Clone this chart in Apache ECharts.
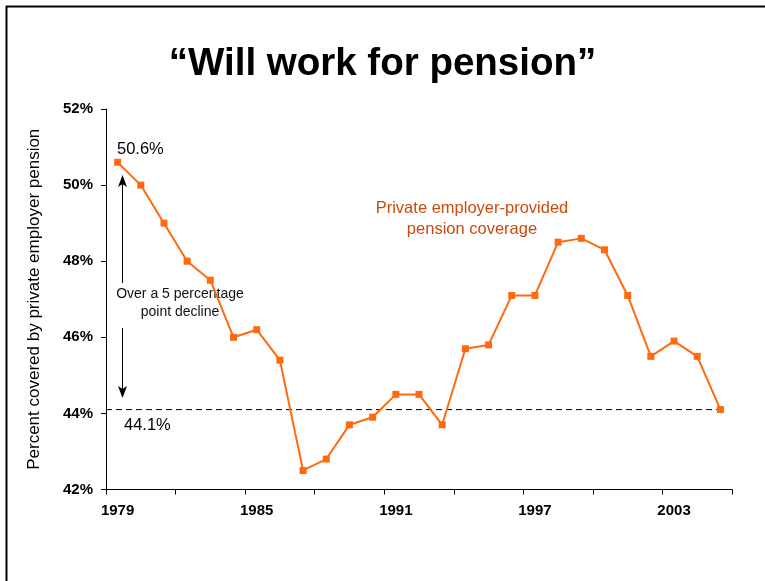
<!DOCTYPE html>
<html>
<head>
<meta charset="utf-8">
<script src="https://cdn.jsdelivr.net/npm/echarts@6/dist/echarts.min.js"></script>
<style>
  html, body { margin: 0; padding: 0; background: #ffffff; }
  #chart { width: 765px; height: 581px; }
</style>
</head>
<body>
<div id="chart"></div>
<script>
// Share of private-sector workers covered by an employer pension, 1979-2005
const years = ['1979','1980','1981','1982','1983','1984','1985','1986','1987','1988',
  '1989','1990','1991','1992','1993','1994','1995','1996','1997','1998',
  '1999','2000','2001','2002','2003','2004','2005'];
const coverage = [50.6, 50.0, 49.0, 48.0, 47.5, 46.0, 46.2, 45.4, 42.5, 42.8,
  43.7, 43.9, 44.5, 44.5, 43.7, 45.7, 45.8, 47.1, 47.1, 48.5,
  48.6, 48.3, 47.1, 45.5, 45.9, 45.5, 44.1];
const yTickValues = [42, 44, 46, 48, 50, 52];

const startValue = coverage[0];
const endValue = coverage[coverage.length - 1];

const FONT = '"Liberation Sans", Arial, Helvetica, sans-serif';
const ORANGE = '#ff6a10';

const chart = echarts.init(document.getElementById('chart'), null, { renderer: 'canvas' });

const option = {
  backgroundColor: '#ffffff',
  animation: false,
  title: {
    text: '\u201cWill work for pension\u201d',
    left: 'center',
    top: 40,
    textStyle: { fontFamily: FONT, fontSize: 38.5, fontWeight: 'bold', color: '#000000' }
  },
  grid: { left: 106, right: 33, top: 109, bottom: 91.5, containLabel: false },
  xAxis: [
    {
      type: 'category',
      data: years,
      boundaryGap: true,
      axisLine: { lineStyle: { color: '#000000', width: 1 } },
      axisTick: { show: true, interval: 2, length: 5, lineStyle: { color: '#000000' } },
      axisLabel: {
        interval: 5, margin: 14, color: '#000000',
        fontFamily: FONT, fontSize: 15, fontWeight: 'bold'
      },
      splitLine: { show: false }
    },
    {
      // hidden numeric axis over the same span, used for the reference line
      type: 'value',
      min: -0.5,
      max: years.length - 0.5,
      show: false
    }
  ],
  yAxis: {
    type: 'value',
    min: yTickValues[0],
    max: yTickValues[yTickValues.length - 1],
    interval: yTickValues[1] - yTickValues[0],
    name: 'Percent covered by private employer pension',
    nameLocation: 'middle',
    nameGap: 63,
    nameTextStyle: { fontFamily: FONT, fontSize: 17, color: '#000000' },
    axisLine: { show: true, onZero: false, lineStyle: { color: '#000000', width: 1 } },
    axisTick: { show: true, length: 5, lineStyle: { color: '#000000' } },
    axisLabel: {
      formatter: '{value}%', margin: 13, color: '#000000',
      fontFamily: FONT, fontSize: 15, fontWeight: 'bold'
    },
    splitLine: { show: false }
  },
  series: [
    {
      name: 'Private employer-provided pension coverage',
      type: 'line',
      data: coverage,
      symbol: 'rect',
      symbolSize: 7,
      itemStyle: { color: ORANGE },
      lineStyle: { color: ORANGE, width: 2 },
      z: 3
    },
    {
      name: 'end level',
      type: 'line',
      xAxisIndex: 1,
      data: [[-0.5, endValue], [years.length - 1, endValue]],
      symbol: 'none',
      lineStyle: { color: '#000000', width: 1, type: [6, 4] },
      silent: true,
      z: 2
    }
  ],
  graphic: [
    // page frame
    { type: 'line', shape: { x1: 6.5, y1: 6, x2: 6.5, y2: 581 }, style: { stroke: '#000', lineWidth: 2 } },
    { type: 'line', shape: { x1: 6, y1: 6.5, x2: 765, y2: 6.5 }, style: { stroke: '#000', lineWidth: 2 } },

    // start / end values
    { type: 'text', left: 117, top: 141,
      style: { text: startValue.toFixed(1) + '%', font: '16.5px ' + FONT, fill: '#000' } },
    { type: 'text', left: 124, top: 417,
      style: { text: endValue.toFixed(1) + '%', font: '16.5px ' + FONT, fill: '#000' } },

    // decline arrows
    { type: 'line', shape: { x1: 122.5, y1: 283, x2: 122.5, y2: 183 }, style: { stroke: '#000', lineWidth: 1 } },
    { type: 'polygon', shape: { points: [[122.5, 175], [118, 187], [122.5, 184], [127, 187]] }, style: { fill: '#000' } },
    { type: 'line', shape: { x1: 122.5, y1: 328, x2: 122.5, y2: 390 }, style: { stroke: '#000', lineWidth: 1 } },
    { type: 'polygon', shape: { points: [[122.5, 398], [118, 386], [122.5, 389], [127, 386]] }, style: { fill: '#000' } },

    { type: 'text', x: 180, y: 303,
      style: { text: 'Over a 5 percentage\npoint decline', font: '14px ' + FONT, fill: '#111',
               align: 'center', verticalAlign: 'middle', lineHeight: 18 } },

    // series caption
    { type: 'text', x: 472, y: 219,
      style: { text: 'Private employer-provided\npension coverage', font: '16.5px ' + FONT, fill: '#cc4a0c',
               align: 'center', verticalAlign: 'middle', lineHeight: 21 } }
  ]
};

chart.setOption(option);
</script>
</body>
</html>
